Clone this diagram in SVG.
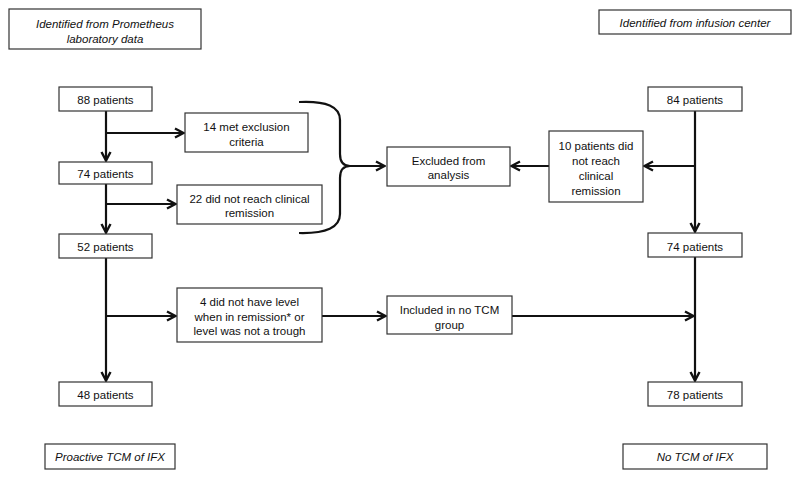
<svg xmlns="http://www.w3.org/2000/svg" width="800" height="478" viewBox="0 0 800 478">
<style>
rect.box{fill:#fff;stroke:#333;stroke-width:1.2}
text{font-family:"Liberation Sans","Open Sans",Arial,sans-serif;font-size:11.5px;fill:#111;text-anchor:middle}
text.it{font-style:italic}
.c{stroke:#111;stroke-width:2.2;fill:none}
</style>
<defs>
<marker id="ah" viewBox="0 0 12 12" refX="11" refY="6" markerWidth="12" markerHeight="12" markerUnits="userSpaceOnUse" orient="auto">
<path d="M2,1.5 L10.5,6 L2,10.5" fill="none" stroke="#111" stroke-width="2.4"/>
</marker>
</defs>
<rect width="800" height="478" fill="#fff"/>
<g id="connectors">
<line class="c" x1="106" y1="111" x2="106" y2="161" marker-end="url(#ah)"/>
<line class="c" x1="106" y1="184" x2="106" y2="233" marker-end="url(#ah)"/>
<line class="c" x1="106" y1="258" x2="106" y2="381" marker-end="url(#ah)"/>
<line class="c" x1="106" y1="133" x2="184" y2="133" marker-end="url(#ah)"/>
<line class="c" x1="106" y1="204" x2="176" y2="204" marker-end="url(#ah)"/>
<line class="c" x1="106" y1="316" x2="176" y2="316" marker-end="url(#ah)"/>
<line class="c" x1="322" y1="316" x2="386" y2="316" marker-end="url(#ah)"/>
<line class="c" x1="512" y1="316" x2="694" y2="316" marker-end="url(#ah)"/>
<line class="c" x1="695" y1="111" x2="695" y2="232" marker-end="url(#ah)"/>
<line class="c" x1="695" y1="257" x2="695" y2="381" marker-end="url(#ah)"/>
<line class="c" x1="695" y1="166" x2="644" y2="166" marker-end="url(#ah)"/>
<line class="c" x1="549" y1="166" x2="511" y2="166" marker-end="url(#ah)"/>
<path class="c" d="M299,102 Q340,100 340,120 L340,154 Q340,166 350,166 Q340,166 340,178 L340,214 Q340,234 299,233"/>
<line class="c" x1="346" y1="166" x2="385" y2="166" marker-end="url(#ah)"/>
</g>
<g id="n-prometheus"><rect class="box" x="9" y="9" width="192" height="40"/><text class="it" x="105" y="28">Identified from Prometheus</text><text class="it" x="105" y="43">laboratory data</text></g>
<g id="n-infusion"><rect class="box" x="599" y="10" width="192" height="24"/><text class="it" x="695" y="26.5">Identified from infusion center</text></g>
<g id="n-88"><rect class="box" x="59" y="87" width="93" height="24"/><text x="105.5" y="103.5">88 patients</text></g>
<g id="n-14"><rect class="box" x="185" y="113" width="123" height="39"/><text x="246.5" y="131">14 met exclusion</text><text x="246.5" y="146">criteria</text></g>
<g id="n-74l"><rect class="box" x="59" y="162" width="93" height="22"/><text x="105.5" y="177.5">74 patients</text></g>
<g id="n-22"><rect class="box" x="177" y="185" width="145" height="39"/><text x="249.5" y="203">22 did not reach clinical</text><text x="249.5" y="217">remission</text></g>
<g id="n-52"><rect class="box" x="59" y="234" width="93" height="24"/><text x="105.5" y="250.5">52 patients</text></g>
<g id="n-excluded"><rect class="box" x="387" y="147" width="123" height="39"/><text x="448.5" y="164.5">Excluded from</text><text x="448.5" y="179">analysis</text></g>
<g id="n-10"><rect class="box" x="549" y="131" width="94" height="71"/><text x="596" y="150">10 patients did</text><text x="596" y="165">not reach</text><text x="596" y="180">clinical</text><text x="596" y="195">remission</text></g>
<g id="n-84"><rect class="box" x="648" y="87" width="94" height="24"/><text x="695" y="103.5">84 patients</text></g>
<g id="n-74r"><rect class="box" x="648" y="233" width="94" height="24"/><text x="695" y="250.5">74 patients</text></g>
<g id="n-4"><rect class="box" x="177" y="288" width="145" height="54"/><text x="249.5" y="306">4 did not have level</text><text x="249.5" y="320.5">when in remission* or</text><text x="249.5" y="335">level was not a trough</text></g>
<g id="n-included"><rect class="box" x="387" y="296" width="125" height="38"/><text x="449.5" y="314">Included in no TCM</text><text x="449.5" y="328.5">group</text></g>
<g id="n-48"><rect class="box" x="59" y="382" width="93" height="24"/><text x="105.5" y="398.5">48 patients</text></g>
<g id="n-78"><rect class="box" x="648" y="382" width="94" height="24"/><text x="695" y="398.5">78 patients</text></g>
<g id="n-proactive"><rect class="box" x="45" y="444" width="130" height="25"/><text class="it" x="110" y="460.5">Proactive TCM of IFX</text></g>
<g id="n-notcm"><rect class="box" x="623" y="444" width="144" height="25"/><text class="it" x="695" y="460.5">No TCM of IFX</text></g>
</svg>
